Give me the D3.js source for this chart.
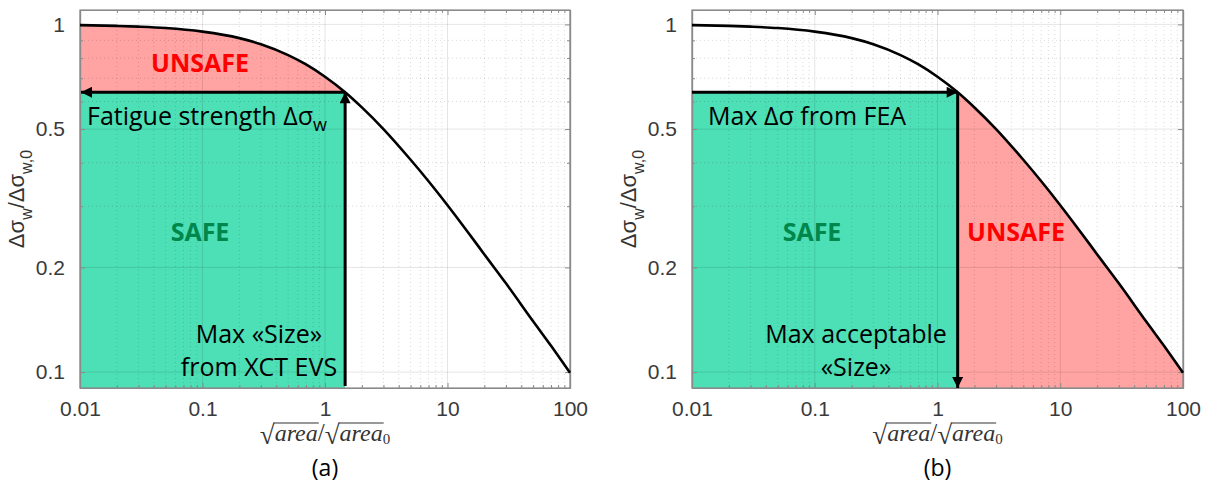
<!DOCTYPE html>
<html><head><meta charset="utf-8">
<script src="https://cdn.jsdelivr.net/npm/d3@7"></script>
<style>body{margin:0;background:#fff}svg{display:block}</style>
</head><body>
<svg id="c" width="1212" height="482"></svg>
<script>
// ---- data ----
const sizeRatio = [0.01,0.02,0.03,0.05,0.1,0.2,0.3,0.5,0.7,1,1.46,2,3,5,7,10,15,20,30,50,70,100];
const strengthRatio = [0.995,0.990,0.985,0.976,0.953,0.913,0.877,0.816,0.767,0.707,0.638,0.577,0.5,0.408,0.354,0.302,0.25,0.218,0.180,0.140,0.119,0.0995];
const thresholdSize = [1.46];
const thresholdStrength = [0.638];
const xTicks = [0.01,0.1,1,10,100];
const xTickLabels = ["0.01","0.1","1","10","100"];
const yTicks = [0.1,0.2,0.5,1];
const yTickLabels = ["0.1","0.2","0.5","1"];
const panelLabels = ["(a)","(b)"];

const svg = d3.select("#c");
svg.append("rect").attr("width",1212).attr("height",482).attr("fill","#fff");

const GREEN = "#4ddfb5", RED = "#ffa3a3";
const pts = sizeRatio.map((x,i)=>({x, y:strengthRatio[i]}));
const tx = thresholdSize[0], ty = thresholdStrength[0];

const defs = svg.append("defs");
function marker(id){
  defs.append("marker").attr("id",id).attr("viewBox","0 0 10 10").attr("refX",10).attr("refY",5)
    .attr("markerWidth",12).attr("markerHeight",11).attr("markerUnits","userSpaceOnUse")
    .attr("orient","auto").append("path").attr("d","M0,0L10,5L0,10z").attr("fill","#000");
}
marker("ah");

function minorVals(lo, hi){
  const out=[];
  for(let e=Math.floor(Math.log10(lo)); e<=Math.ceil(Math.log10(hi)); e++){
    for(let m=1;m<=9;m++){const v=m*Math.pow(10,e); if(v>=lo*0.9999 && v<=hi*1.0001) out.push(v);}
  }
  return out;
}

function panel(idx, left, right){
  const top=10, bottom=388;
  const x = d3.scaleLog().domain([0.01,100]).range([left,right]);
  const y = d3.scaleLog().domain([0.09,1.1]).range([bottom,top]);
  const g = svg.append("g");
  const clipId = "clip"+idx;
  defs.append("clipPath").attr("id",clipId).append("rect").attr("x",left).attr("y",top).attr("width",right-left).attr("height",bottom-top);

  // fills
  const fills = g.append("g").attr("clip-path",`url(#${clipId})`);
  const leftPts = pts.filter(p=>p.x<=tx);
  const rightPts = pts.filter(p=>p.x>=tx);
  fills.append("rect").attr("x",x(0.01)).attr("y",y(ty)).attr("width",x(tx)-x(0.01)).attr("height",y(0.09)-y(ty)).attr("fill",GREEN);
  if(idx===0){
    const a = d3.area().x(d=>x(d.x)).y0(y(ty)).y1(d=>y(d.y)).curve(d3.curveMonotoneX);
    fills.append("path").attr("d",a(leftPts)).attr("fill",RED);
  } else {
    const a = d3.area().x(d=>x(d.x)).y0(y(0.09)).y1(d=>y(d.y)).curve(d3.curveMonotoneX);
    fills.append("path").attr("d",a(rightPts)).attr("fill",RED);
  }

  // grid
  const grid = g.append("g");
  const xMinor = minorVals(0.01,100).filter(v=>!xTicks.some(t=>Math.abs(t-v)<1e-9));
  const yMinor = minorVals(0.09,1.1).filter(v=>!yTicks.some(t=>Math.abs(t-v)<1e-9));
  xMinor.forEach(v=>grid.append("line").attr("x1",x(v)).attr("x2",x(v)).attr("y1",top).attr("y2",bottom)
    .attr("stroke","#000").attr("stroke-opacity",0.15).attr("stroke-dasharray","1,3").attr("stroke-width",1));
  yMinor.forEach(v=>grid.append("line").attr("y1",y(v)).attr("y2",y(v)).attr("x1",left).attr("x2",right)
    .attr("stroke","#000").attr("stroke-opacity",0.15).attr("stroke-dasharray","1,3").attr("stroke-width",1));
  xTicks.forEach(v=>grid.append("line").attr("x1",x(v)).attr("x2",x(v)).attr("y1",top).attr("y2",bottom)
    .attr("stroke","#000").attr("stroke-opacity",0.1).attr("stroke-width",1));
  yTicks.forEach(v=>grid.append("line").attr("y1",y(v)).attr("y2",y(v)).attr("x1",left).attr("x2",right)
    .attr("stroke","#000").attr("stroke-opacity",0.1).attr("stroke-width",1));

  // axes with inward ticks
  const axCol="#8a8a8a";
  const xb = g.append("g").attr("transform",`translate(0,${bottom})`)
    .call(d3.axisBottom(x).tickValues(xTicks).tickFormat((d,i)=>xTickLabels[i]).tickSizeInner(-5).tickSizeOuter(0).tickPadding(13));
  const xbm = g.append("g").attr("transform",`translate(0,${bottom})`)
    .call(d3.axisBottom(x).tickValues(xMinor).tickFormat("").tickSizeInner(-3).tickSizeOuter(0));
  const xt = g.append("g").attr("transform",`translate(0,${top})`)
    .call(d3.axisTop(x).tickValues(xTicks).tickFormat("").tickSizeInner(-5).tickSizeOuter(0));
  const xtm = g.append("g").attr("transform",`translate(0,${top})`)
    .call(d3.axisTop(x).tickValues(xMinor).tickFormat("").tickSizeInner(-3).tickSizeOuter(0));
  const yl = g.append("g").attr("transform",`translate(${left},0)`)
    .call(d3.axisLeft(y).tickValues(yTicks).tickFormat((d,i)=>yTickLabels[i]).tickSizeInner(-5).tickSizeOuter(0).tickPadding(15));
  const ylm = g.append("g").attr("transform",`translate(${left},0)`)
    .call(d3.axisLeft(y).tickValues(yMinor).tickFormat("").tickSizeInner(-3).tickSizeOuter(0));
  const yr = g.append("g").attr("transform",`translate(${right},0)`)
    .call(d3.axisRight(y).tickValues(yTicks).tickFormat("").tickSizeInner(-5).tickSizeOuter(0));
  const yrm = g.append("g").attr("transform",`translate(${right},0)`)
    .call(d3.axisRight(y).tickValues(yMinor).tickFormat("").tickSizeInner(-3).tickSizeOuter(0));
  [xb,xbm,xt,xtm,yl,ylm,yr,yrm].forEach(a=>{
    a.selectAll("path").attr("stroke",axCol).attr("stroke-width",1.2);
    a.selectAll("line").attr("stroke",axCol);
    a.selectAll("text").attr("fill","#3a3a3a").attr("font-family","Liberation Sans, Arial, sans-serif").attr("font-size",21);
  });
  // box
  g.append("rect").attr("x",left).attr("y",top).attr("width",right-left).attr("height",bottom-top)
    .attr("fill","none").attr("stroke",axCol).attr("stroke-width",1.2);

  // curve
  const line = d3.line().x(d=>x(d.x)).y(d=>y(d.y)).curve(d3.curveMonotoneX);
  g.append("path").attr("d",line(pts)).attr("fill","none").attr("stroke","#000").attr("stroke-width",2.6);

  // arrows
  if(idx===0){
    g.append("line").attr("x1",x(tx)).attr("y1",y(ty)).attr("x2",x(0.01)+1).attr("y2",y(ty))
      .attr("stroke","#000").attr("stroke-width",3).attr("marker-end","url(#ah)");
    g.append("line").attr("x1",x(tx)).attr("y1",bottom-2).attr("x2",x(tx)).attr("y2",y(ty))
      .attr("stroke","#000").attr("stroke-width",3).attr("marker-end","url(#ah)");
  } else {
    g.append("line").attr("x1",x(0.01)).attr("y1",y(ty)).attr("x2",x(tx)).attr("y2",y(ty))
      .attr("stroke","#000").attr("stroke-width",3).attr("marker-end","url(#ah)");
    g.append("line").attr("x1",x(tx)).attr("y1",y(ty)).attr("x2",x(tx)).attr("y2",bottom)
      .attr("stroke","#000").attr("stroke-width",3).attr("marker-end","url(#ah)");
  }

  // y label
  const ylab = g.append("text").attr("transform",`translate(${left-56},${(top+bottom)/2}) rotate(-90)`)
    .attr("text-anchor","middle").attr("font-family","Liberation Sans, Arial, sans-serif").attr("font-size",22).attr("fill","#333");
  ylab.append("tspan").text("Δσ");
  ylab.append("tspan").attr("font-size",16).attr("dy",8).text("w");
  ylab.append("tspan").attr("dy",-8).text("/Δσ");
  ylab.append("tspan").attr("font-size",16).attr("dy",8).text("w,0");

  // x label (sqrt(area)/sqrt(area0))
  const cx = (left+right)/2;
  const xl = g.append("g").attr("font-family","Liberation Serif, DejaVu Serif, serif").attr("fill","#333");
  const parts = [];
  const base = 441;
  function sq(){ const t=xl.append("text").attr("font-size",27).attr("y",base+3).text("√"); parts.push({t}); }
  function over(s){ const t=xl.append("text").attr("font-size",24).attr("font-style","italic").attr("y",base).text(s); parts.push({t,over:true}); }
  function plain(s,size,dy){ const t=xl.append("text").attr("font-size",size).attr("y",base+(dy||0)).text(s); parts.push({t}); }
  sq(); over("area"); plain("/",25); sq(); over("area"); plain("0",15,3);
  parts.forEach(p=>{ p.w = p.t.node().getComputedTextLength(); });
  const total = d3.sum(parts,p=>p.w);
  let px = cx - total/2;
  parts.forEach(p=>{ p.t.attr("x",px);
    if(p.over){ xl.append("line").attr("x1",px-1).attr("x2",px+p.w+1).attr("y1",base-18).attr("y2",base-18).attr("stroke","#333").attr("stroke-width",1.1); }
    px += p.w; });

  g.append("text").attr("x",cx).attr("y",476).attr("text-anchor","middle")
    .attr("font-family","Open Sans, Noto Sans, sans-serif").attr("font-size",23).attr("fill","#000").text(panelLabels[idx]);
  return {x,y};
}

panel(0,80,570);
panel(1,692,1183);

const F = "Open Sans, Noto Sans, sans-serif";
function txt(x,y,opt){
  return svg.append("text").attr("x",x).attr("y",y).attr("font-family",F).attr("font-size",opt.size||25)
    .attr("fill",opt.fill||"#000").attr("font-weight",opt.bold?"bold":"normal").attr("text-anchor",opt.anchor||"start");
}
// panel a texts
txt(200,72,{bold:true,fill:"#ff0000",anchor:"middle",size:25}).text("UNSAFE");
txt(200,241,{bold:true,fill:"#00884c",anchor:"middle",size:25}).text("SAFE");
const fs = txt(87,125,{size:25});
fs.append("tspan").text("Fatigue strength Δσ");
fs.append("tspan").attr("font-size",18).attr("dy",6).text("w");
txt(259,343,{anchor:"middle"}).text("Max «Size»");
txt(259,376,{anchor:"middle"}).text("from XCT EVS");
// panel b texts
txt(812,241,{bold:true,fill:"#00884c",anchor:"middle",size:25}).text("SAFE");
txt(1016,241,{bold:true,fill:"#ff0000",anchor:"middle",size:25}).text("UNSAFE");
txt(708,125,{}).text("Max Δσ from FEA");
txt(856,343,{anchor:"middle"}).text("Max acceptable");
txt(856,376,{anchor:"middle"}).text("«Size»");
</script>
</body></html>
